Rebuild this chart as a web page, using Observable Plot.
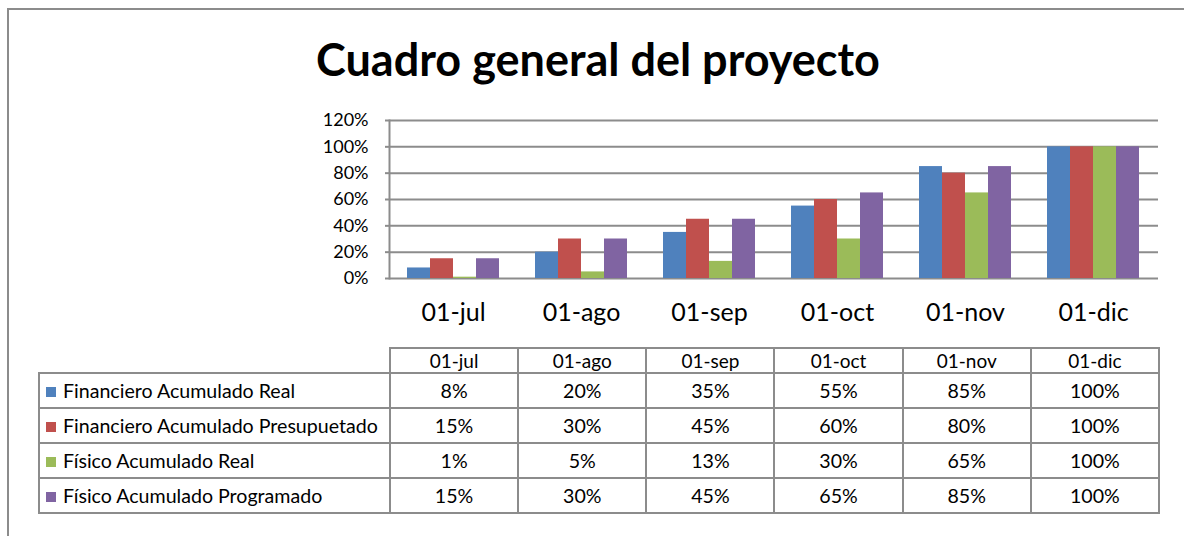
<!DOCTYPE html>
<html>
<head>
<meta charset="utf-8">
<script src="https://cdn.jsdelivr.net/npm/d3@7"></script>
<script src="https://cdn.jsdelivr.net/npm/@observablehq/plot@0.6"></script>
<style>
  html, body { margin: 0; padding: 0; background: #fff; overflow: hidden; width: 1184px; height: 536px; }
  #page { position: relative; width: 1184px; height: 536px; font-family: Lato, "Open Sans", sans-serif; }
  #outer { position: absolute; left: 7px; top: 8px; width: 1300px; height: 700px; border: 2px solid #8c8c8c; box-sizing: border-box; }
  #title { position: absolute; left: 0; width: 1196px; top: 33px; text-align: center; font-size: 45px; font-weight: bold; line-height: 52px; color: #000; }
  .layer { position: absolute; left: 0; top: 0; }
  #tbl { position: absolute; left: 38px; top: 347px; border-collapse: collapse; font-size: 19.6px; color: #000; table-layout: fixed; }
  #tbl td { border: 2px solid #8c8c8c; text-align: center; padding: 0; }
  #tbl tr.head td { height: 23px; font-size: 19px; line-height: 22px; }
  #tbl tr.row td { height: 33px; line-height: 22px; }
  #tbl td.lab { text-align: left; padding-left: 6px; white-space: nowrap; }
  #tbl td.blank { border: none; }
  .key { display: inline-block; width: 10px; height: 10px; margin-right: 7px; vertical-align: 1px; }
</style>
</head>
<body>
<div id="page">
  <div id="outer"></div>
  <div id="title">Cuadro general del proyecto</div>
  <div id="base" class="layer"></div>
  <div id="bars" class="layer"></div>
  <table id="tbl"></table>
</div>
<script>
const months = ["01-jul", "01-ago", "01-sep", "01-oct", "01-nov", "01-dic"];
const series = ["Financiero Acumulado Real", "Financiero Acumulado Presupuetado", "Físico Acumulado Real", "Físico Acumulado Programado"];
const financieroReal = [0.08, 0.20, 0.35, 0.55, 0.85, 1.00];
const financieroPresupuestado = [0.15, 0.30, 0.45, 0.60, 0.80, 1.00];
const fisicoReal = [0.01, 0.05, 0.13, 0.30, 0.65, 1.00];
const fisicoProgramado = [0.15, 0.30, 0.45, 0.65, 0.85, 1.00];
const colors = ["#4F81BD", "#C0504D", "#9BBB59", "#8064A2"];
const yTicks = [0, 0.2, 0.4, 0.6, 0.8, 1.0, 1.2];

const seriesValues = [financieroReal, financieroPresupuestado, fisicoReal, fisicoProgramado];
const data = [];
months.forEach((m, i) => {
  series.forEach((s, j) => data.push({month: m, series: s, value: seriesValues[j][i]}));
});

const pct = d3.format(".0%");

const common = {
  width: 1184,
  height: 330,
  marginTop: 120,
  marginBottom: 52,
  marginLeft: 389,
  marginRight: 26,
  style: {fontFamily: "Lato, 'Open Sans', sans-serif", fontSize: "18px", color: "#000", background: "transparent", overflow: "visible"}
};

// base layer: gridlines, y axis, left axis line
const base = Plot.plot({
  ...common,
  y: {domain: [0, 1.2], label: null},
  marks: [
    Plot.ruleY(yTicks, {stroke: "#8c8c8c", strokeWidth: 2}),
    Plot.frame({anchor: "left", stroke: "#8c8c8c", strokeWidth: 2}),
    Plot.axisY(yTicks, {tickSize: 4, tickPadding: 17, tickFormat: pct, fontSize: 18, stroke: "#8c8c8c", strokeWidth: 2, label: null})
  ]
});
document.getElementById("base").appendChild(base);

// bars layer: grouped bars by month
const bars = Plot.plot({
  ...common,
  fx: {domain: months, paddingInner: 0.28, paddingOuter: 0.14, label: null},
  x: {domain: series, padding: 0, axis: null},
  y: {domain: [0, 1.2], axis: null},
  color: {domain: series, range: colors},
  marks: [
    Plot.axisFx({anchor: "bottom", tickSize: 0, tickPadding: 25, fontSize: 25, label: null}),
    Plot.barY(data, {fx: "month", x: "series", y: "value", fill: "series", inset: 0})
  ]
});
document.getElementById("bars").appendChild(bars);

// data table
const tbl = document.getElementById("tbl");
const colgroup = document.createElement("colgroup");
const c0 = document.createElement("col"); c0.style.width = "351px"; colgroup.appendChild(c0);
months.forEach(() => { const c = document.createElement("col"); c.style.width = (769 / 6) + "px"; colgroup.appendChild(c); });
tbl.appendChild(colgroup);
const head = document.createElement("tr"); head.className = "head";
const blank = document.createElement("td"); blank.className = "blank"; head.appendChild(blank);
months.forEach(m => { const td = document.createElement("td"); td.textContent = m; head.appendChild(td); });
tbl.appendChild(head);
series.forEach((s, j) => {
  const tr = document.createElement("tr"); tr.className = "row";
  const lab = document.createElement("td"); lab.className = "lab";
  const key = document.createElement("span"); key.className = "key"; key.style.background = colors[j];
  lab.appendChild(key); lab.appendChild(document.createTextNode(s));
  tr.appendChild(lab);
  seriesValues[j].forEach(v => { const td = document.createElement("td"); td.textContent = pct(v); tr.appendChild(td); });
  tbl.appendChild(tr);
});
</script>
</body>
</html>
